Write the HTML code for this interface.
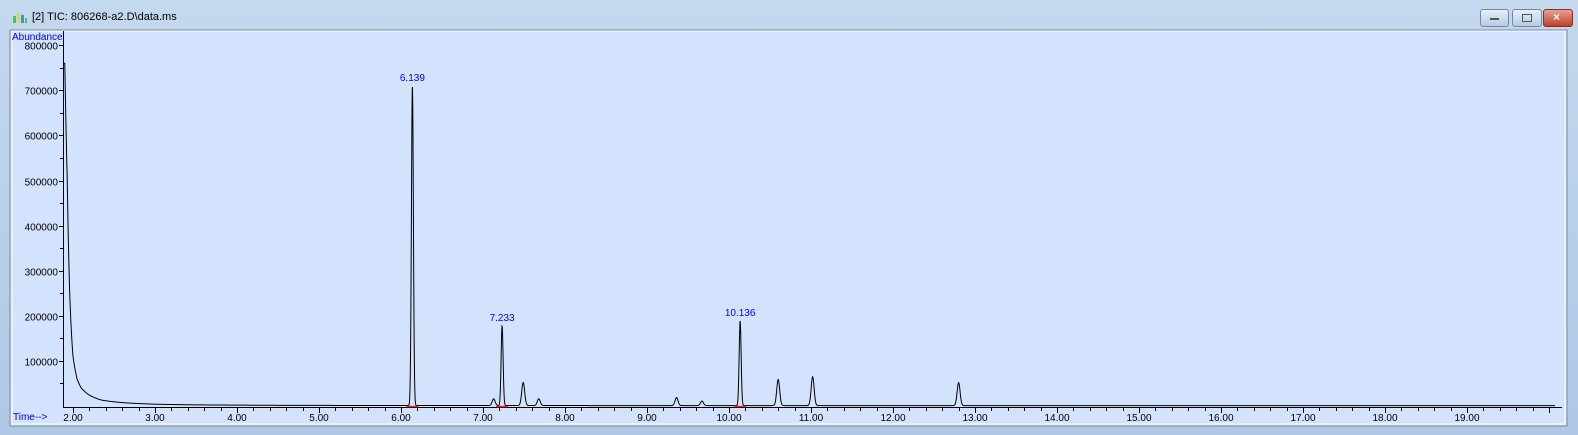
<!DOCTYPE html>
<html><head><meta charset="utf-8">
<style>
html,body{margin:0;padding:0;width:1578px;height:435px;overflow:hidden;background:#b9d1ea;font-family:"Liberation Sans",sans-serif;}
#win{position:absolute;left:0;top:0;width:1578px;height:435px;background:linear-gradient(#c4d8ee,#aec8e4);}
#title{position:absolute;left:32px;top:11px;font-size:11px;color:#000;}
.btn{position:absolute;top:9px;height:16px;border:1px solid #6f88a8;border-radius:3px;background:linear-gradient(#e6eef8,#b7cbe3);}
</style></head><body>
<div id="win">
<svg width="16" height="14" style="position:absolute;left:12px;top:10px"><rect x="1" y="6" width="3" height="7" fill="#4c4"/><rect x="5" y="2" width="3" height="11" fill="#dd3"/><rect x="9" y="5" width="3" height="8" fill="#39c"/><rect x="13" y="8" width="2" height="5" fill="#4c4"/></svg>
<div id="title">[2] TIC: 806268-a2.D\data.ms</div>
<div class="btn" style="left:1480px;width:27px"><span style="position:absolute;left:9px;top:8px;width:9px;height:2px;background:#555"></span></div>
<div class="btn" style="left:1512px;width:28px"><span style="position:absolute;left:9px;top:4px;width:8px;height:6px;border:1px solid #555"></span></div>
<div class="btn" style="left:1543px;width:28px;background:linear-gradient(#e8a090,#c0402c);border-color:#8a3020"><span style="position:absolute;left:9px;top:0;color:#fff;font-size:12px;font-weight:bold">×</span></div>
<svg id="chart" width="1578" height="435" style="position:absolute;left:0;top:0"></svg>
</div>
<script>
const peakTimes=[6.139,7.13,7.233,7.49,7.68,9.36,9.67,10.136,10.60,11.02,12.80];
const peakHeights=[710000,15000,177000,51000,15000,18000,10000,188000,58000,64000,51000];
const peakLabels=["6.139","","7.233","","","","","10.136","","",""];
const tailTimes=[1.90,1.93,1.96,2.0,2.05,2.1,2.2,2.35,2.6,3.0,3.5,4.5,6.0,20.0];
const tailValues=[760000,500000,250000,110000,60000,40000,24000,13000,7500,4000,2500,1500,1000,800];
const xTicks=[2,3,4,5,6,7,8,9,10,11,12,13,14,15,16,17,18,19];
const yTicks=[100000,200000,300000,400000,500000,600000,700000,800000];

const NS="http://www.w3.org/2000/svg";
const svg=document.getElementById('chart');
function X(t){return 73+(t-2)*82;}
function Y(v){return 406-v*45.1/100000;}
function mk(tag,attrs,parent){const e=document.createElementNS(NS,tag);for(const k in attrs)e.setAttribute(k,attrs[k]);(parent||svg).appendChild(e);return e;}

const panel=mk('rect',{x:10,y:30,width:1557,height:396,fill:'#d3e3fd',stroke:'#7a8a9c'});


const inner=mk('rect',{x:12,y:31,width:1553,height:393,fill:'#d3e3fd',stroke:'#ffffff'});



const yAxis=mk('line',{x1:63.5,y1:31,x2:63.5,y2:407.5,stroke:'#000'});


const xAxis=mk('line',{x1:63,y1:407.5,x2:1562,y2:407.5,stroke:'#000'});



yTicks.forEach(v=>{
  const y=Math.round(Y(v))+0.5;
  mk('line',{x1:59,y1:y,x2:63,y2:y,stroke:'#000'});
  const t=mk('text',{x:58,y:y+4,'text-anchor':'end','font-size':'10',fill:'#000'});
  t.textContent=String(v);
  
  
  const ym=Math.round(Y(v-50000))+0.5;
  mk('line',{x1:60,y1:ym,x2:63,y2:ym,stroke:'#000'});
});
for(let k=0;k<=18*5;k++){
  const tt=2+k*0.2; const x=Math.round(X(tt))+0.5;
  const major=k%5===0;
  mk('line',{x1:x,y1:407,x2:x,y2:major?413:411,stroke:'#000'});
}
xTicks.forEach(v=>{
  const t=mk('text',{x:X(v),y:421,'text-anchor':'middle','font-size':'10',fill:'#000'});
  t.textContent=v.toFixed(2);
  
  
});
const ylab=mk('text',{x:12,y:40,'font-size':'10',fill:'#0000ff'});
ylab.textContent='Abundance';


const xlab=mk('text',{x:13,y:420,'font-size':'10',fill:'#0000ff'});
xlab.textContent='Time-->';



function tail(t){
  if(t<=tailTimes[0])return tailValues[0];
  for(let i=1;i<tailTimes.length;i++){
    if(t<=tailTimes[i]){const f=(t-tailTimes[i-1])/(tailTimes[i]-tailTimes[i-1]);
      return Math.exp(Math.log(tailValues[i-1])*(1-f)+Math.log(tailValues[i])*f);}
  }
  return tailValues[tailValues.length-1];
}
function signal(t){
  let s=tail(t);
  peakTimes.forEach((p,i)=>{const w=peakHeights[i]>100000?0.012:0.018;s+=peakHeights[i]*Math.exp(-0.5*((t-p)/w)**2);});
  return s;
}
let d='';
for(let px=64;px<=1555;px+=0.25){
  const t=2+(px-73)/82;
  d+=(d?'L':'M')+px.toFixed(2)+','+Y(signal(t)).toFixed(2);
}
const line=mk('path',{d:d,fill:'none',stroke:'#000','stroke-width':1});



peakTimes.forEach((p,i)=>{
  if(!peakLabels[i])return;
  const t=mk('text',{x:X(p),y:Y(peakHeights[i])-5,'text-anchor':'middle','font-size':'10',fill:'#0000ff'});
  t.textContent=peakLabels[i];
  
  
  const b=mk('line',{x1:X(p)-6,y1:406.5,x2:X(p)+6,y2:406.5,stroke:'#ff2020','stroke-width':1.5});
  
  
});
</script>
</body></html>
